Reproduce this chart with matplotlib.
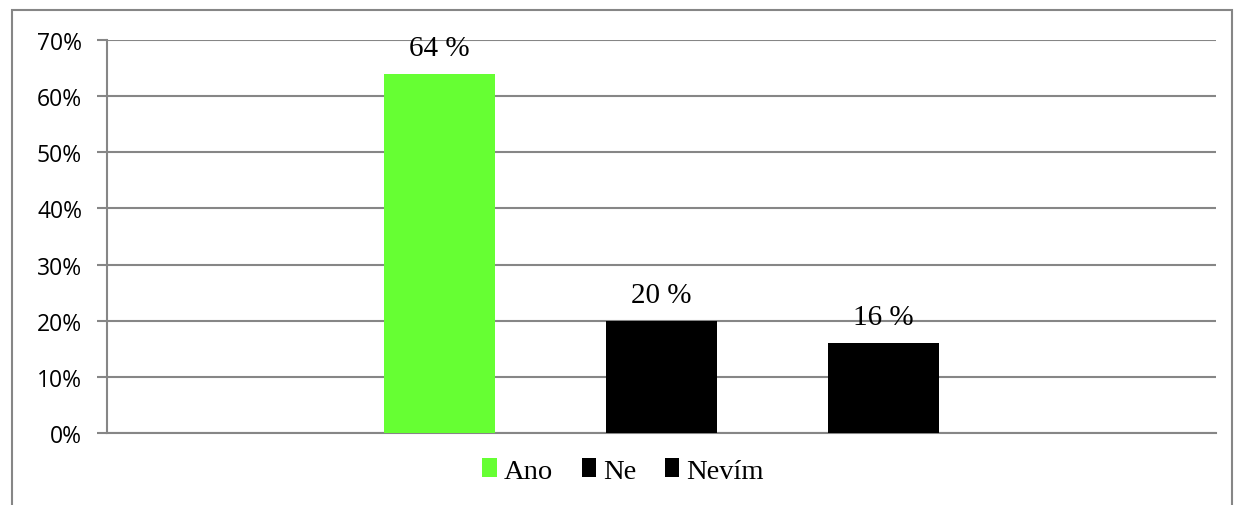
import matplotlib.pyplot as plt
from matplotlib.patches import Rectangle
from matplotlib.ticker import PercentFormatter

# Data
categories = ["Ano", "Ne", "Nevím"]
values = [64, 20, 16]
colors = ["#66FF33", "#000000", "#000000"]
yticks = [0, 10, 20, 30, 40, 50, 60, 70]

W, H = 1237, 506
fig = plt.figure(figsize=(W / 100, H / 100), dpi=100)
ax = fig.add_axes([107 / W, 1 - 434 / H, (1216 - 107) / W, (434 - 41) / H])

grid_col = "#868686"

xs = [i - 1 for i in range(len(categories))]
bars = ax.bar(xs, values, width=0.5, color=colors, zorder=3)

for x, v in zip(xs, values):
    ax.text(x, v + 2.3, f"{v} %", ha="center", va="bottom",
            family="Liberation Serif", fontsize=21, color="black", zorder=4)

ax.set_xlim(-2.5, 2.5)
ax.set_ylim(0, 70)
ax.set_yticks(yticks)
ax.yaxis.set_major_formatter(PercentFormatter(decimals=0))
ax.set_xticks([])
ax.grid(axis="y", color=grid_col, linewidth=1.5, zorder=0)
for s in ["top", "right"]:
    ax.spines[s].set_visible(False)
ax.spines["left"].set_color(grid_col)
ax.spines["left"].set_linewidth(1.5)
ax.spines["bottom"].set_color(grid_col)
ax.spines["bottom"].set_linewidth(1.5)
ax.tick_params(axis="y", length=7, width=1.5, color=grid_col, pad=11,
               labelsize=16.5)
for t in ax.get_yticklabels():
    t.set_family("Open Sans")

fig.legend(handles=list(bars), labels=categories, loc="center",
           bbox_to_anchor=(623 / W, 1 - 472 / H), ncol=3, frameon=False,
           prop={"family": "Liberation Serif", "size": 20.5},
           handlelength=0.5, handleheight=0.65, handletextpad=0.25,
           columnspacing=1.0)

# outer chart border (bottom edge cut off)
fig.patches.append(Rectangle((12 / W, -0.05), (1232 - 12) / W, 1.05 - 11 / H,
                             transform=fig.transFigure, fill=False,
                             edgecolor=grid_col, linewidth=1.5))

fig.savefig("out.png", dpi=100)
